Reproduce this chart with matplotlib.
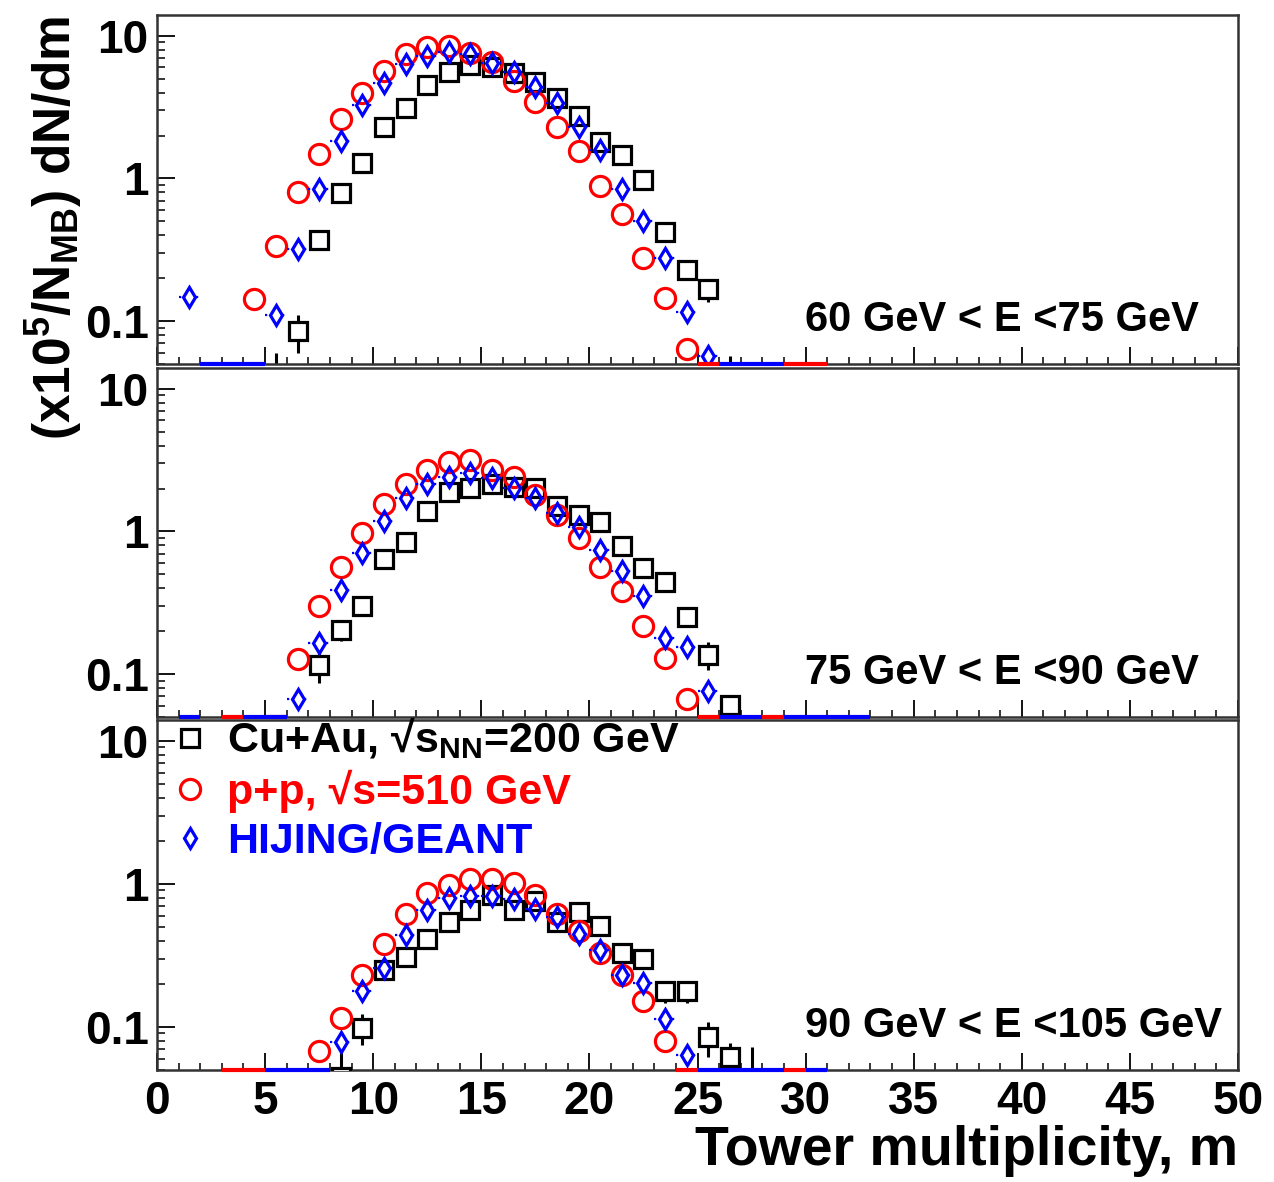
import numpy as np
import matplotlib
matplotlib.use("Agg")
from matplotlib import pyplot as plt
from matplotlib.lines import Line2D
from matplotlib.ticker import (FixedLocator, FixedFormatter, LogLocator,
                               MultipleLocator, NullFormatter)

plt.rcParams["font.family"] = ["Liberation Sans", "DejaVu Sans"]
plt.rcParams["font.weight"] = "bold"
plt.rcParams["mathtext.fontset"] = "custom"
plt.rcParams["mathtext.rm"] = "Liberation Sans:bold"
plt.rcParams["mathtext.it"] = "Liberation Sans:bold"
plt.rcParams["mathtext.bf"] = "Liberation Sans:bold"

# ---------------------------------------------------------------------------
# data (bin centres m, dN/dm in units of 1e-5 / N_MB)
# ---------------------------------------------------------------------------

energy_labels = ["60 GeV < E <75 GeV", "75 GeV < E <90 GeV", "90 GeV < E <105 GeV"]

# panel 1 : 60 < E < 75 GeV
cuau_m_1 = np.arange(5.5, 27.0)
cuau_v_1 = [0.04, 0.085, 0.368, 0.79, 1.28, 2.31, 3.1, 4.52, 5.55, 6.24, 6.0,
            5.46, 4.77, 3.65, 2.74, 1.79, 1.47, 0.97, 0.42, 0.228, 0.167, 0.04]
cuau_e_1 = [0.02, 0.025, 0, 0, 0, 0, 0, 0, 0, 0, 0,
            0, 0, 0, 0, 0, 0, 0, 0, 0.035, 0.03, 0.017]
pp_m_1 = np.arange(4.5, 25.0)
pp_v_1 = [0.142, 0.335, 0.80, 1.49, 2.61, 3.99, 5.66, 7.4, 8.3, 8.5, 7.6,
          6.6, 4.84, 3.45, 2.31, 1.55, 0.89, 0.567, 0.277, 0.146, 0.064]
hij_m_1 = [1.5] + list(np.arange(5.5, 26.0))
hij_v_1 = [0.148, 0.111, 0.322, 0.85, 1.82, 3.27, 4.69, 6.3, 7.24, 7.7, 7.4,
           6.5, 5.6, 4.4, 3.37, 2.29, 1.59, 0.85, 0.50, 0.277, 0.115, 0.057]
pp_zero_1 = [25.5, 29.5, 30.5]
hij_zero_1 = [2.5, 3.5, 4.5, 26.5, 27.5, 28.5]

# panel 2 : 75 < E < 90 GeV
cuau_m_2 = np.arange(7.5, 27.0)
cuau_v_2 = [0.115, 0.205, 0.30, 0.645, 0.85, 1.4, 1.88, 2.02, 2.15, 2.04,
            2.02, 1.5, 1.31, 1.17, 0.795, 0.553, 0.44, 0.25, 0.137, 0.061]
cuau_e_2 = [0.028, 0.035, 0, 0, 0, 0, 0, 0, 0, 0,
            0, 0, 0, 0, 0, 0, 0, 0.03, 0.03, 0.01]
pp_m_2 = np.arange(6.5, 25.0)
pp_v_2 = [0.128, 0.30, 0.56, 0.975, 1.56, 2.16, 2.71, 3.06, 3.15, 2.71,
          2.4, 1.81, 1.31, 0.90, 0.56, 0.38, 0.216, 0.13, 0.067]
hij_m_2 = np.arange(6.5, 26.0)
hij_v_2 = [0.067, 0.165, 0.39, 0.71, 1.19, 1.73, 2.16, 2.4, 2.57, 2.37,
           2.02, 1.71, 1.35, 1.07, 0.74, 0.53, 0.35, 0.18, 0.156, 0.076]
pp_zero_2 = [3.5, 5.5, 25.5, 28.5]
hij_zero_2 = [1.5, 4.5, 5.5, 26.5, 27.5, 29.5, 30.5, 31.5, 32.5]

# panel 3 : 90 < E < 105 GeV
cuau_m_3 = np.arange(8.5, 29.0)
cuau_v_3 = [0.045, 0.099, 0.25, 0.306, 0.41, 0.54, 0.66, 0.84, 0.66, 0.76, 0.546,
            0.64, 0.51, 0.33, 0.30, 0.177, 0.177, 0.085, 0.062, 0.042, 0.04]
cuau_e_3 = [0.022, 0.024, 0, 0, 0, 0, 0, 0, 0, 0, 0,
            0, 0, 0, 0, 0.03, 0.03, 0.023, 0.015, 0.03, 0.012]
pp_m_3 = np.arange(7.5, 24.0)
pp_v_3 = [0.068, 0.116, 0.232, 0.38, 0.62, 0.86, 0.985, 1.08, 1.08, 1.01,
          0.83, 0.62, 0.465, 0.33, 0.232, 0.151, 0.080]
hij_m_3 = np.arange(8.5, 25.0)
hij_v_3 = [0.079, 0.179, 0.26, 0.44, 0.66, 0.795, 0.82, 0.82, 0.785, 0.67,
           0.59, 0.45, 0.346, 0.232, 0.203, 0.114, 0.064]
pp_zero_3 = [3.5, 4.5, 24.5, 29.5]
hij_zero_3 = [5.5, 6.5, 7.5, 25.5, 26.5, 27.5, 28.5, 30.5]

panels = [
    (cuau_m_1, cuau_v_1, cuau_e_1, pp_m_1, pp_v_1, hij_m_1, hij_v_1, pp_zero_1, hij_zero_1),
    (cuau_m_2, cuau_v_2, cuau_e_2, pp_m_2, pp_v_2, hij_m_2, hij_v_2, pp_zero_2, hij_zero_2),
    (cuau_m_3, cuau_v_3, cuau_e_3, pp_m_3, pp_v_3, hij_m_3, hij_v_3, pp_zero_3, hij_zero_3),
]

legend_labels = [r"Cu+Au, √s$_{\mathrm{NN}}$=200 GeV", "p+p, √s=510 GeV", "HIJING/GEANT"]

YMIN, YMAX = 0.05, 14.0
RED, BLUE = "#ff0000", "#0000ff"

# ---------------------------------------------------------------------------
# figure
# ---------------------------------------------------------------------------

W, H = 1274, 1182
fig = plt.figure(figsize=(W / 100, H / 100), dpi=100)
boxes = [(15, 364), (368, 717), (720, 1070)]  # top/bottom in pixels

sq_kw = dict(marker="s", ms=12.5, mfc="white", mec="black", mew=2.3)
ci_kw = dict(marker="o", ms=14.5, mfc="none", mec=RED, mew=2.3)
di_kw = dict(marker="d", ms=10.5, mfc="none", mec=BLUE, mew=2.3)

for i, ((t, b), data) in enumerate(zip(boxes, panels)):
    cm, cv, ce, pm, pv, hm, hv, pz, hz = data
    ax = fig.add_axes([157 / W, 1 - b / H, 1081 / W, (b - t) / H])
    ax.set_yscale("log")
    ax.set_xlim(0, 50)
    ax.set_ylim(YMIN, YMAX)

    # empty bins drawn on the lower edge
    ax.hlines([YMIN] * len(pz), np.array(pz) - 0.5, np.array(pz) + 0.5,
              color=RED, lw=3, clip_on=False, zorder=6)
    ax.hlines([YMIN] * len(hz), np.array(hz) - 0.5, np.array(hz) + 0.5,
              color=BLUE, lw=3, clip_on=False, zorder=6)

    ax.errorbar(cm, cv, yerr=ce, fmt="none", ecolor="black", elinewidth=2.2,
                capsize=0, zorder=2)
    ax.plot(cm, cv, ls="none", zorder=3, **sq_kw)
    ax.plot(pm, pv, ls="none", zorder=4, **ci_kw)
    hm_a = np.asarray(hm, dtype=float)
    ax.hlines(hv, hm_a - 0.5, hm_a - 0.3, color=BLUE, lw=1.6, linestyles=":", zorder=5)
    ax.hlines(hv, hm_a + 0.3, hm_a + 0.5, color=BLUE, lw=1.6, linestyles=":", zorder=5)
    ax.plot(hm_a, hv, ls="none", zorder=5, **di_kw)

    ax.text(0.5994, 0.095, energy_labels[i], transform=ax.transAxes,
            ha="left", va="baseline", fontsize=30, fontweight="bold")

    ax.xaxis.set_major_locator(MultipleLocator(5))
    ax.xaxis.set_minor_locator(MultipleLocator(1))
    ax.yaxis.set_major_locator(FixedLocator([0.1, 1, 10]))
    ax.yaxis.set_major_formatter(FixedFormatter(["0.1", "1", "10"]))
    ax.yaxis.set_minor_locator(LogLocator(base=10, subs=np.arange(2, 10)))
    ax.yaxis.set_minor_formatter(NullFormatter())
    ax.tick_params(axis="x", which="major", direction="in", length=12, width=1.3,
                   top=False, labelsize=33, pad=7)
    ax.tick_params(axis="x", which="minor", direction="in", length=5, width=1.1, top=False)
    ax.tick_params(axis="y", which="major", direction="in", length=13, width=1.3,
                   right=False, labelsize=33, pad=6)
    ax.tick_params(axis="y", which="minor", direction="in", length=6, width=1.1, right=False)
    for sp in ax.spines.values():
        sp.set_linewidth(1.8)
        sp.set_color("#333333")
    if i < 2:
        ax.tick_params(labelbottom=False)
    else:
        handles = [Line2D([], [], ls="none", **sq_kw),
                   Line2D([], [], ls="none", **ci_kw),
                   Line2D([], [], ls="none", **di_kw)]
        leg = ax.legend(handles, legend_labels, loc="upper left",
                        bbox_to_anchor=(0.0125, 1.012), frameon=False,
                        fontsize=31, handlelength=0.9, handletextpad=0.42,
                        labelspacing=0.2, borderpad=0.0, borderaxespad=0)
        for txt, col in zip(leg.get_texts(), ["black", RED, BLUE]):
            txt.set_color(col)

fig.text(54 / W, 1 - 16 / H, r"(x10$^{5}$/N$_{\mathrm{MB}}$) dN/dm", rotation=90,
         ha="center", va="top", fontsize=37, fontweight="bold")
fig.text(1238 / W, 1 - 1165 / H, "Tower multiplicity, m", ha="right",
         va="baseline", fontsize=40, fontweight="bold")

fig.savefig("out.png", dpi=100)
